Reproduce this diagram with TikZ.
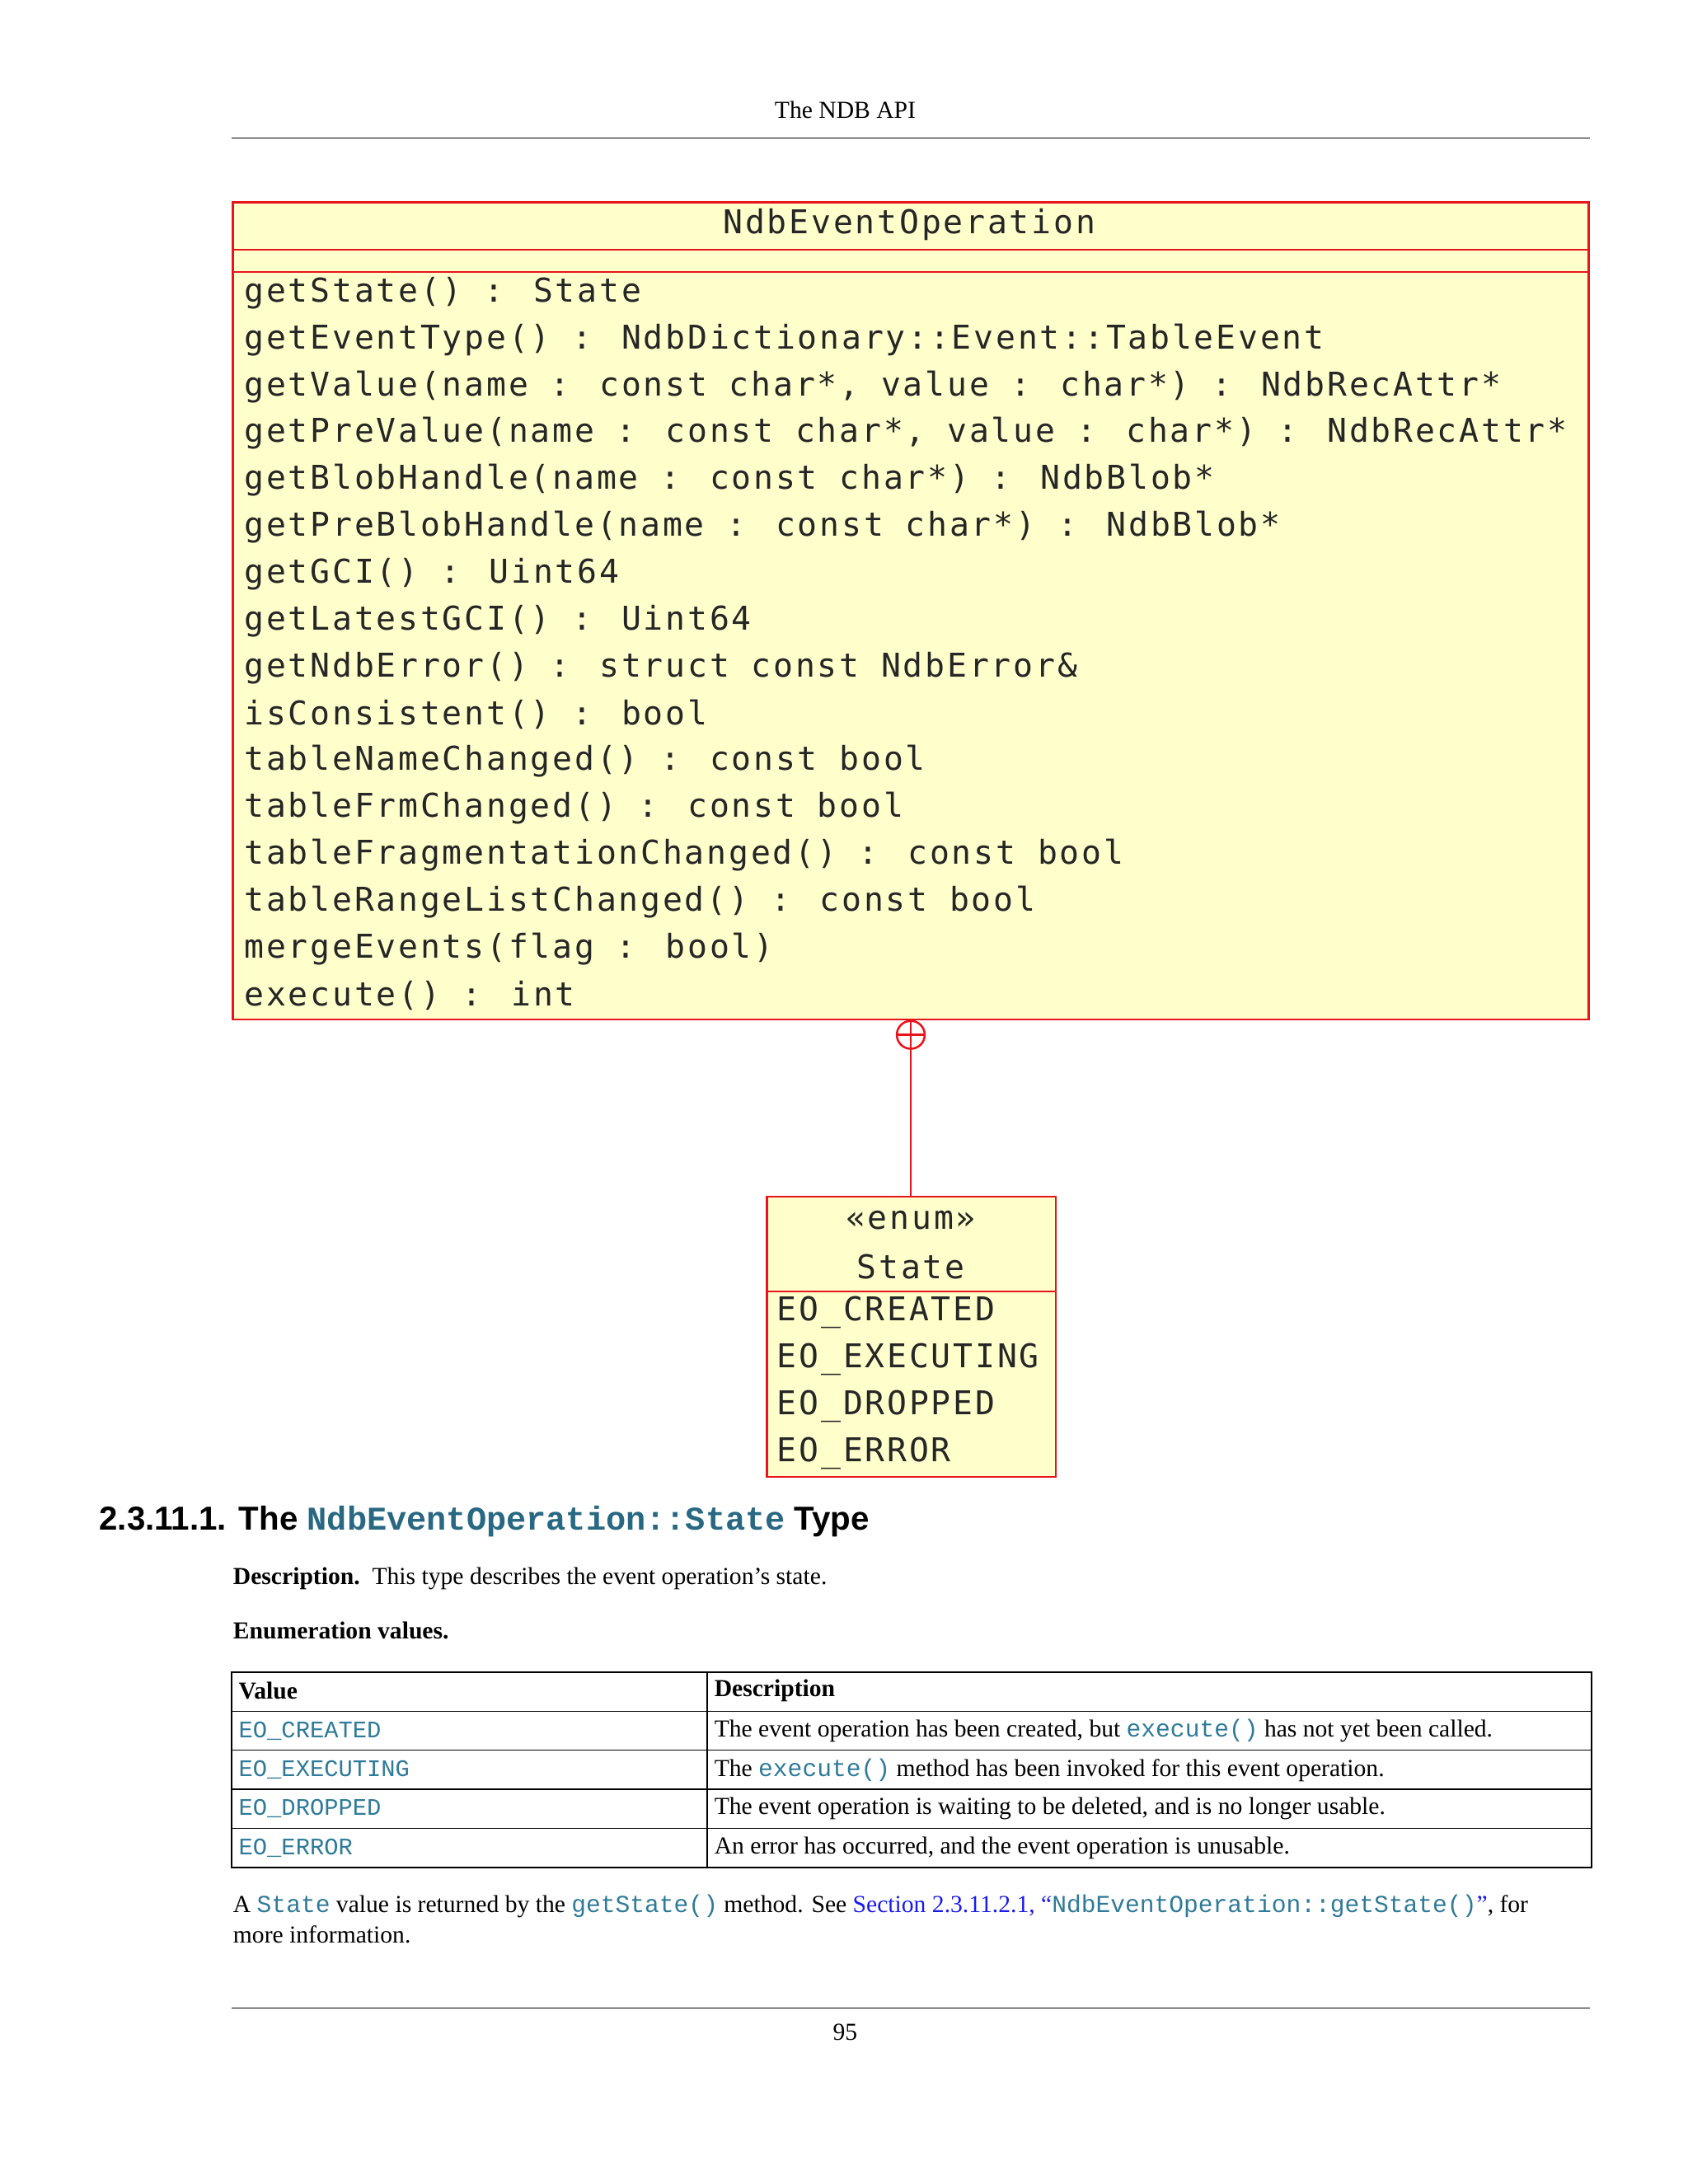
\documentclass[tikz,border=0pt]{standalone}
\usepackage{fontspec}
\setmainfont{Liberation Serif}
\newfontfamily\umlfont[LetterSpace=7]{DejaVu Sans Mono}
\newfontfamily\tmono{Liberation Mono}
\newfontfamily\hsans{Liberation Sans}
\definecolor{umlred}{HTML}{E8141C}
\definecolor{umlfill}{HTML}{FFFFCC}
\definecolor{lnk}{HTML}{2F7A99}
\definecolor{xref}{HTML}{1A1AEE}
\begin{document}
\begin{tikzpicture}[x=1pt,y=-1pt,
  uml/.style={font=\umlfont\fontsize{23.5}{24}\selectfont,anchor=west,inner sep=0pt,text=black!85},
  body/.style={font=\fontsize{17.5}{20}\selectfont,anchor=west,inner sep=0pt},
  cell/.style={font=\fontsize{17.5}{20}\selectfont,anchor=west,inner sep=0pt},
  mono/.style={font=\tmono\fontsize{17}{20}\selectfont,text=lnk,anchor=west,inner sep=0pt}]
\useasboundingbox (0,0) rectangle (1210,1566);
\fill[white] (0,0) rectangle (1210,1566);
% header
\node[font=\fontsize{17.5}{20}\selectfont] (hdr) at (606,79) {The NDB API};
\draw[line width=0.8pt] (166,99) -- (1140,99);
% big class box
\draw[umlred,fill=umlfill,line width=1.5pt] (167,145) rectangle (1139,731);
\draw[umlred,line width=1.5pt] (167,179) -- (1139,179);
\draw[umlred,line width=1.5pt] (167,195) -- (1139,195);
\node[uml,anchor=center] (title) at (652,161) {NdbEventOperation};
\foreach \t [count=\i from 0] in {
 {getState() : State},
 {getEventType() : NdbDictionary::Event::TableEvent},
 {getValue(name : const char*, value : char*) : NdbRecAttr*},
 {getPreValue(name : const char*, value : char*) : NdbRecAttr*},
 {getBlobHandle(name : const char*) : NdbBlob*},
 {getPreBlobHandle(name : const char*) : NdbBlob*},
 {getGCI() : Uint64},
 {getLatestGCI() : Uint64},
 {getNdbError() : struct const NdbError\&},
 {isConsistent() : bool},
 {tableNameChanged() : const bool},
 {tableFrmChanged() : const bool},
 {tableFragmentationChanged() : const bool},
 {tableRangeListChanged() : const bool},
 {mergeEvents(flag : bool)},
 {execute() : int}}
 \node[uml] (m\i) at (175,{210+33.6*\i}) {\t};
% nesting connector
\coordinate (cp) at (653,742);
\draw[umlred,line width=1.5pt] (cp) circle (10);
\draw[umlred,line width=1.5pt] (643,742) -- (663,742) (653,732) -- (653,752);
% enum box
\draw[umlred,fill=umlfill,line width=1.5pt] (550,858) rectangle (757,1059);
\draw[umlred,line width=1.5pt] (550,926) -- (757,926);
\draw[umlred,line width=1.5pt] (cp) ++(0,10) -- (653,858);
\node[uml,anchor=center] (st1) at (653,875) {«enum»};
\node[uml,anchor=center] (st2) at (653,908) {State};
\foreach \t [count=\i from 0] in {EO\_CREATED,EO\_EXECUTING,EO\_DROPPED,EO\_ERROR}
 \node[uml] (e\i) at (557,{941+33.6*\i}) {\t};
% heading
\node[anchor=west,inner sep=0pt,font=\hsans\bfseries\fontsize{23.8}{28}\selectfont] (sec) at (71,1091)
 {2.3.11.1. The {\tmono\color{lnk!85!black}NdbEventOperation::State} Type};
\node[body] (desc) at (167,1132) {\textbf{Description.}\ \ This type describes the event operation's state.};
\node[body] (enum) at (167,1169) {\textbf{Enumeration values.}};
% table
\draw[line width=0.8pt] (166,1199) rectangle (1141,1339);
\draw[line width=0.8pt] (507,1199) -- (507,1339);
\foreach \y in {1227,1255,1283,1311} \draw[line width=0.8pt] (166,\y) -- (1141,\y);
\node[cell] (th1) at (171,1212) {\textbf{Value}};
\node[cell] (th2) at (512,1212) {\textbf{Description}};
\node[mono] (v1) at (171,1241) {EO\_CREATED};
\node[mono] (v2) at (171,1269) {EO\_EXECUTING};
\node[mono] (v3) at (171,1297) {EO\_DROPPED};
\node[mono] (v4) at (171,1325) {EO\_ERROR};
\node[cell] (d1) at (512,1241) {The event operation has been created, but {\tmono\color{lnk}execute()} has not yet been called.};
\node[cell] (d2) at (512,1269) {The {\tmono\color{lnk}execute()} method has been invoked for this event operation.};
\node[cell] (d3) at (512,1297) {The event operation is waiting to be deleted, and is no longer usable.};
\node[cell] (d4) at (512,1325) {An error has occurred, and the event operation is unusable.};
% paragraph
\node[body] (p1) at (167,1367) {A {\tmono\color{lnk}State} value is returned by the {\tmono\color{lnk}getState()} method. See {\color{xref}Section 2.3.11.2.1, ``{\tmono\color{lnk}NdbEventOperation::getState()}''}, for};
\node[body] (p2) at (167,1387) {more information.};
% footer
\draw[line width=0.8pt] (166,1440) -- (1140,1440);
\node[font=\fontsize{17.5}{20}\selectfont] (pg) at (606,1457) {95};
\end{tikzpicture}
\end{document}
